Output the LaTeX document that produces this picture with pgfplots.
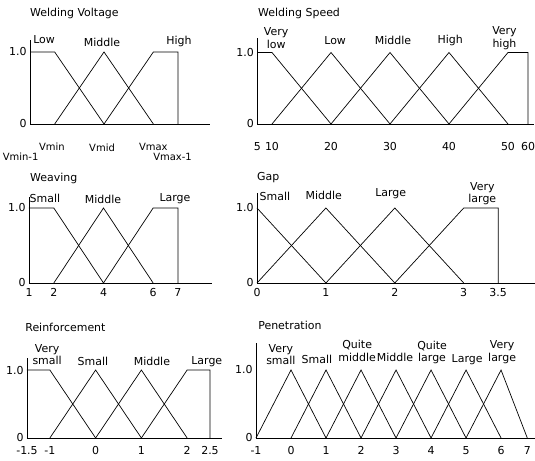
\documentclass[border=0pt]{standalone}
\usepackage{fontspec}
\setmainfont{DejaVu Sans}
\usepackage{pgfplots}
\pgfplotsset{compat=1.18}

\pgfplotsset{
  mf/.style={
    scale only axis,
    anchor=south west,
    axis lines*=left,
    axis line style={line width=0.9pt},
    clip=false,
    ymin=0,
    ytick={0,1}, yticklabels={0,1.0},
    major tick length=0pt,
    tick label style={font=\fontsize{11}{12}\selectfont},
  },
  ml/.style={black, line width=0.7pt, mark=none},
}
\tikzset{
  lbl/.style={font=\fontsize{11}{12.5}\selectfont, inner sep=0pt, align=center},
  vlbl/.style={font=\fontsize{10}{11}\selectfont, inner sep=0pt},
}

\begin{document}
\begin{tikzpicture}
\useasboundingbox (0bp,0bp) rectangle (535bp,461bp);

% Welding Voltage
\begin{axis}[mf, at={(30bp,337bp)}, width=180.1bp, height=84bp,
  xmin=1, xmax=8.3, ymax=1.1667, xtick=\empty]
\addplot[ml] coordinates {(1,1) (2,1) (4,0)};
\addplot[ml] coordinates {(2,0) (4,1) (6,0)};
\addplot[ml] coordinates {(4,0) (6,1) (7,1) (7,0)};
\node[lbl, anchor=west] at (axis cs:1,1.54) {Welding Voltage};
\node[lbl] at (axis cs:1.57,1.17) {Low};
\node[lbl] at (axis cs:3.92,1.14) {Middle};
\node[lbl] at (axis cs:7.04,1.14) {High};
\node[vlbl] at (axis cs:1.89,-0.32) {Vmin};
\node[vlbl] at (axis cs:3.92,-0.33) {Vmid};
\node[vlbl] at (axis cs:6,-0.32) {Vmax};
\node[vlbl] at (axis cs:0.62,-0.46) {Vmin-1};
\node[vlbl] at (axis cs:6.78,-0.46) {Vmax-1};
\end{axis}

% Welding Speed
\begin{axis}[mf, at={(257.25bp,337bp)}, width=276.7bp, height=85.8bp,
  xmin=7.5, xmax=54.4, ymax=1.2,
  xtick={7.5,10,20,30,40,50,53.4}, xticklabels={5,10,20,30,40,50,60},
  xticklabel style={yshift=-15pt}]
\addplot[ml] coordinates {(7.5,1) (10,1) (20,0)};
\addplot[ml] coordinates {(10,0) (20,1) (30,0)};
\addplot[ml] coordinates {(20,0) (30,1) (40,0)};
\addplot[ml] coordinates {(30,0) (40,1) (50,0)};
\addplot[ml] coordinates {(40,0) (50,1) (53.4,1) (53.4,0)};
\node[lbl, anchor=west] at (axis cs:7.63,1.55) {Welding Speed};
\node[lbl] at (axis cs:10.7,1.2) {Very\\low};
\node[lbl] at (axis cs:20.7,1.17) {Low};
\node[lbl] at (axis cs:30.5,1.17) {Middle};
\node[lbl] at (axis cs:40.2,1.17) {High};
\node[lbl] at (axis cs:49.4,1.2) {Very\\high};
\end{axis}

% Weaving
\begin{axis}[mf, at={(29bp,178bp)}, width=183bp, height=86.25bp,
  xmin=1, xmax=8.37, ymax=1.15,
  xtick={1,2,4,6,7}, xticklabels={1,2,4,6,7},
  xticklabel style={yshift=-2pt}]
\addplot[ml] coordinates {(1,1) (2,1) (4,0)};
\addplot[ml] coordinates {(2,0) (4,1) (6,0)};
\addplot[ml] coordinates {(4,0) (6,1) (7,1) (7,0)};
\node[lbl, anchor=west] at (axis cs:1.04,1.39) {Weaving};
\node[lbl] at (axis cs:1.64,1.13) {Small};
\node[lbl] at (axis cs:3.98,1.11) {Middle};
\node[lbl] at (axis cs:6.88,1.13) {Large};
\end{axis}

% Gap
\begin{axis}[mf, at={(257bp,178bp)}, width=277.7bp, height=90bp,
  xmin=0, xmax=4.03, ymax=1.2,
  xtick={0,1,2,3,3.5}, xticklabels={0,1,2,3,3.5},
  xticklabel style={yshift=-2pt}]
\addplot[ml] coordinates {(0,1) (1,0)};
\addplot[ml] coordinates {(0,0) (1,1) (2,0)};
\addplot[ml] coordinates {(1,0) (2,1) (3,0)};
\addplot[ml] coordinates {(2,0) (3,1) (3.5,1) (3.5,0)};
\node[lbl, anchor=west] at (axis cs:0,1.41) {Gap};
\node[lbl] at (axis cs:0.26,1.15) {Small};
\node[lbl] at (axis cs:0.97,1.17) {Middle};
\node[lbl] at (axis cs:1.94,1.19) {Large};
\node[lbl] at (axis cs:3.27,1.19) {Very\\large};
\end{axis}

% Reinforcement
\begin{axis}[mf, at={(27bp,23bp)}, width=194.9bp, height=80.2bp,
  xmin=-1.5, xmax=2.76, ymax=1.18,
  xtick={-1.5,-1,0,1,2,2.5}, xticklabels={-1.5,-1,0,1,2,2.5},
  xticklabel style={yshift=-5pt}]
\addplot[ml] coordinates {(-1.5,1) (-1,1) (0,0)};
\addplot[ml] coordinates {(-1,0) (0,1) (1,0)};
\addplot[ml] coordinates {(0,0) (1,1) (2,0)};
\addplot[ml] coordinates {(1,0) (2,1) (2.5,1) (2.5,0)};
\node[lbl, anchor=west] at (axis cs:-1.54,1.62) {Reinforcement};
\node[lbl] at (axis cs:-1.06,1.23) {Very\\small};
\node[lbl] at (axis cs:-0.06,1.12) {Small};
\node[lbl] at (axis cs:1.23,1.12) {Middle};
\node[lbl] at (axis cs:2.43,1.12) {Large};
\end{axis}

% Penetration
\begin{axis}[mf, at={(256bp,23bp)}, width=279bp, height=95.2bp,
  xmin=-1, xmax=6.97, ymax=1.4,
  xtick={-1,0,1,2,3,4,5,6,6.75}, xticklabels={-1,0,1,2,3,4,5,6,7},
  xticklabel style={yshift=-5pt}]
\addplot[ml] coordinates {(-1,0) (0,1) (1,0)};
\addplot[ml] coordinates {(0,0) (1,1) (2,0)};
\addplot[ml] coordinates {(1,0) (2,1) (3,0)};
\addplot[ml] coordinates {(2,0) (3,1) (4,0)};
\addplot[ml] coordinates {(3,0) (4,1) (5,0)};
\addplot[ml] coordinates {(4,0) (5,1) (6,0)};
\addplot[ml] coordinates {(5,0) (6,1) (6.75,0)};
\node[lbl, anchor=west] at (axis cs:-0.94,1.66) {Penetration};
\node[lbl] at (axis cs:-0.29,1.23) {Very\\small};
\node[lbl] at (axis cs:0.74,1.15) {Small};
\node[lbl] at (axis cs:1.89,1.28) {Quite\\middle};
\node[lbl] at (axis cs:2.97,1.19) {Middle};
\node[lbl] at (axis cs:4.03,1.26) {Quite\\large};
\node[lbl] at (axis cs:5.03,1.15) {Large};
\node[lbl] at (axis cs:6.03,1.26) {Very\\large};
\end{axis}
\end{tikzpicture}
\end{document}
